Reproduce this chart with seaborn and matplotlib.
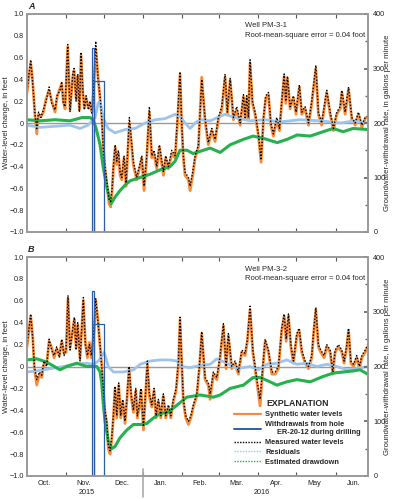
import numpy as np
import pandas as pd
import matplotlib
matplotlib.use("Agg")
import matplotlib.pyplot as plt
import matplotlib.dates as mdates
import matplotlib.ticker as mticker
from matplotlib.lines import Line2D
import seaborn as sns

# ---------------- data (days since 2015-10-01) ----------------
meas_days_a = [0.5, 3.4, 4.7, 6.8, 8.2, 9.6, 11.5, 13.4, 15.5, 17.9, 20.0, 22.6, 24.2, 26.5, 27.9, 29.1,
               30.5, 32.6, 34.4, 36.6, 37.6, 39.2, 40.5, 41.8, 43.1, 44.5, 45.7, 47.1, 48.9, 50.2, 51.8,
               53.4, 54.7, 56.5, 58.1, 59.4, 60.7, 62.0, 63.6, 65.2, 66.5, 67.6, 68.6, 70.0, 71.3, 72.5,
               73.9, 75.2, 77.0, 78.6, 81.2, 83.1, 84.3, 87.0, 89.1, 91.0, 92.8, 94.9, 97.0, 98.9, 100.7,
               102.8, 104.9, 106.8, 108.1, 109.9, 112.0, 114.7, 117.3, 119.4, 121.2, 122.5, 123.8, 125.1,
               127.8, 129.1, 131.2, 133.1, 135.7, 138.3, 140.9, 143.5, 146.2, 148.8, 151.4, 154.1, 156.7,
               158.5, 160.7, 163.3, 165.9, 168.6, 171.2, 172.5, 173.8, 175.1, 176.4, 178.3, 180.4, 183.0,
               185.1, 187.0, 188.8, 190.9, 192.8, 194.8, 197.5, 199.6, 201.4, 203.3, 204.6, 205.9, 208.0,
               210.6, 212.7, 215.3, 217.2, 219.8, 222.5, 225.1, 228.3, 230.3, 232.9, 235.6, 236.9, 239.6,
               242.2, 244.8, 247.5, 248.8, 251.4, 254.1, 256.7, 259.3, 261.9, 264.6, 267.2, 269.2]
meas_vals_a = [0.30, 0.58, 0.40, 0.08, -0.05, 0.10, 0.05, 0.12, 0.20, 0.33, 0.18, 0.12, 0.25, 0.30, 0.38, 0.18,
               0.15, 0.72, 0.10, 0.45, 0.50, 0.20, 0.45, 0.10, 0.65, 0.30, 0.12, 0.25, 0.12, 0.20, 0.08,
               0.40, 0.75, 0.40, 0.25, 0.05, -0.25, -0.40, -0.55, -0.70, -0.72, -0.60, -0.40, -0.20, -0.35, -0.25,
               -0.45, -0.50, -0.30, -0.55, 0.05, -0.20, -0.35, -0.50, -0.40, -0.30, -0.58, -0.30, 0.15, -0.30, -0.25,
               -0.40, -0.20, -0.35, -0.45, -0.30, -0.40, -0.25, -0.30, 0.10, 0.47, 0.00, -0.30, -0.45,
               -0.50, -0.58, -0.45, -0.30, -0.20, 0.40, 0.05, -0.18, -0.05, -0.15, 0.05, 0.15, 0.45,
               0.10, 0.41, 0.05, 0.15, 0.00, 0.26, 0.05, 0.25, 0.05, 0.58, 0.20, 0.10, -0.10,
               -0.34, 0.05, 0.25, 0.28, 0.00, -0.10, 0.05, -0.05, 0.20, 0.45, 0.20, 0.43, 0.15,
               0.25, 0.10, 0.35, 0.10, 0.15, 0.00, 0.20, 0.53, 0.10, 0.00, 0.20, 0.30, 0.10,
               -0.05, 0.10, 0.15, 0.30, 0.10, 0.33, 0.05, 0.00, 0.10, -0.02, 0.05, 0.06]
synth_vals_a = [0.28, 0.55, 0.42, 0.06, -0.10, 0.08, 0.06, 0.10, 0.22, 0.30, 0.20, 0.10, 0.24, 0.32, 0.36, 0.20,
                0.13, 0.70, 0.12, 0.43, 0.48, 0.22, 0.43, 0.12, 0.62, 0.28, 0.14, 0.23, 0.14, 0.18, 0.10,
                0.38, 0.68, 0.42, 0.22, 0.08, -0.22, -0.42, -0.57, -0.74, -0.77, -0.62, -0.42, -0.22, -0.38, -0.28,
                -0.48, -0.52, -0.32, -0.58, 0.00, -0.22, -0.38, -0.52, -0.42, -0.32, -0.62, -0.32, 0.10, -0.32, -0.28,
                -0.42, -0.22, -0.38, -0.48, -0.32, -0.42, -0.28, -0.32, 0.05, 0.45, -0.02, -0.32, -0.48,
                -0.52, -0.62, -0.48, -0.32, -0.22, 0.42, 0.02, -0.20, -0.07, -0.17, 0.03, 0.12, 0.42,
                0.08, 0.39, 0.03, 0.12, -0.02, 0.24, 0.03, 0.23, 0.03, 0.55, 0.18, 0.08, -0.12,
                -0.36, 0.03, 0.23, 0.26, -0.02, -0.12, 0.03, -0.07, 0.18, 0.43, 0.18, 0.41, 0.13,
                0.23, 0.08, 0.33, 0.08, 0.13, -0.02, 0.18, 0.50, 0.08, -0.02, 0.18, 0.28, 0.08,
                -0.07, 0.08, 0.13, 0.28, 0.08, 0.31, 0.03, -0.02, 0.08, -0.04, 0.04, 0.06]

meas_days_b = [0.5, 3.4, 5.0, 6.3, 8.2, 10.2, 12.1, 13.9, 16.0, 17.9, 20.0, 21.8, 23.9, 26.0, 27.9, 29.7,
               31.3, 32.8, 34.4, 36.6, 37.8, 39.2, 40.5, 42.3, 44.9, 46.5, 48.1, 49.7, 51.2, 53.4, 54.7,
               56.5, 58.1, 59.4, 60.7, 62.0, 63.4, 64.6, 66.0, 67.3, 68.6, 69.9, 71.3, 72.8, 74.4, 76.0,
               77.8, 79.2, 81.0, 82.6, 84.4, 86.3, 87.5, 89.1, 90.4, 92.3, 94.2, 95.4, 97.0, 98.9, 100.7,
               102.3, 104.1, 106.0, 108.0, 109.9, 112.0, 113.9, 115.9, 118.1, 119.9, 121.2, 122.5, 123.8,
               125.7, 127.8, 129.7, 131.7, 134.4, 136.4, 138.3, 140.9, 143.5, 144.9, 147.5, 150.2, 152.8,
               155.4, 157.5, 159.3, 162.0, 164.6, 167.2, 169.9, 172.5, 174.3, 176.4, 178.6, 180.4, 182.2,
               184.3, 186.5, 188.3, 190.9, 193.6, 196.2, 198.8, 201.4, 203.3, 204.9, 206.7, 208.6, 210.6,
               213.3, 215.1, 217.2, 219.8, 222.5, 225.1, 226.4, 228.3, 230.3, 232.2, 234.8, 236.9, 239.6,
               241.7, 243.5, 246.1, 248.8, 250.6, 252.7, 254.1, 255.9, 258.0, 260.6, 262.7, 264.6, 267.2, 269.2]
meas_vals_b = [0.20, 0.48, 0.25, 0.00, -0.12, -0.05, -0.08, 0.05, 0.00, 0.25, 0.15, 0.10, 0.18, 0.08, 0.25, 0.10,
               0.15, 0.65, 0.15, 0.35, 0.45, 0.15, 0.40, 0.05, 0.63, 0.20, 0.10, 0.20, 0.10, 0.35, 0.62,
               0.40, 0.20, 0.00, -0.20, -0.40, -0.50, -0.72, -0.77, -0.65, -0.45, -0.18, -0.45, -0.15, -0.45, -0.30,
               -0.50, -0.30, 0.00, -0.25, -0.40, -0.20, -0.45, -0.35, -0.20, -0.55, -0.20, 0.05, -0.25, -0.35, -0.20,
               -0.45, -0.30, -0.45, -0.25, -0.45, -0.35, -0.45, -0.30, -0.20, 0.05, 0.45, 0.05, -0.30,
               -0.45, -0.50, -0.45, -0.35, -0.25, 0.00, 0.32, -0.10, -0.15, -0.25, -0.05, -0.10, 0.10,
               0.39, 0.00, 0.30, 0.00, 0.05, -0.05, 0.15, 0.12, 0.25, 0.55, 0.15, 0.00, -0.15,
               -0.30, 0.00, 0.25, 0.15, -0.05, -0.05, 0.00, 0.35, 0.48, 0.25, 0.48, 0.20, 0.05,
               0.30, 0.35, 0.15, 0.05, 0.00, 0.10, 0.30, 0.54, 0.20, 0.15, 0.10, 0.20, 0.15,
               -0.05, 0.15, 0.20, 0.15, 0.05, 0.20, 0.35, 0.05, 0.02, 0.10, 0.00, 0.10, 0.15, 0.20]
synth_vals_b = [0.18, 0.46, 0.27, -0.02, -0.17, -0.07, -0.10, 0.03, 0.02, 0.23, 0.17, 0.08, 0.16, 0.10, 0.23, 0.12,
                0.13, 0.62, 0.17, 0.33, 0.43, 0.17, 0.38, 0.07, 0.60, 0.22, 0.08, 0.22, 0.08, 0.33, 0.60,
                0.42, 0.18, 0.02, -0.22, -0.42, -0.52, -0.75, -0.80, -0.67, -0.47, -0.20, -0.47, -0.17, -0.47, -0.32,
                -0.52, -0.32, -0.02, -0.27, -0.42, -0.22, -0.47, -0.37, -0.22, -0.58, -0.22, 0.02, -0.27, -0.37, -0.22,
                -0.47, -0.32, -0.47, -0.27, -0.47, -0.37, -0.47, -0.32, -0.22, 0.02, 0.43, 0.03, -0.32,
                -0.47, -0.53, -0.47, -0.37, -0.27, -0.02, 0.30, -0.12, -0.17, -0.30, -0.07, -0.12, 0.08,
                0.37, -0.02, 0.28, -0.02, 0.03, -0.07, 0.13, 0.10, 0.23, 0.52, 0.13, -0.02, -0.18,
                -0.36, -0.02, 0.23, 0.13, -0.07, -0.07, -0.02, 0.33, 0.46, 0.23, 0.46, 0.18, 0.03,
                0.28, 0.33, 0.13, 0.03, -0.02, 0.08, 0.28, 0.52, 0.18, 0.13, 0.08, 0.18, 0.13,
                -0.07, 0.13, 0.18, 0.13, 0.03, 0.18, 0.33, 0.03, 0.00, 0.08, -0.02, 0.08, 0.13, 0.18]

resid_days_a = [0.5, 10.8, 22.6, 34.4, 42.3, 48.6, 54.2, 56.5, 58.1, 60.5, 64.4, 69.9, 77.8, 85.7, 93.6,
                101.5, 109.4, 117.3, 121.2, 125.2, 129.1, 133.1, 137.0, 144.9, 156.7, 164.6, 176.4, 188.3,
                200.1, 215.9, 231.7, 247.5, 259.3, 269.2]
resid_vals_a = [-0.02, -0.04, -0.03, -0.02, -0.05, -0.02, 0.05, 0.18, 0.20, 0.05, -0.05, -0.09, -0.06, -0.05, 0.00,
                0.03, 0.04, 0.08, 0.06, 0.00, -0.05, 0.00, 0.03, 0.02, 0.08, 0.05, 0.02, 0.03,
                0.01, 0.03, 0.02, 0.00, 0.02, 0.00]
resid_days_b = [0.5, 8.2, 18.6, 29.1, 37.0, 47.6, 52.8, 56.8, 61.3, 64.6, 68.6, 76.5, 84.4, 89.7, 97.5,
                105.4, 113.3, 118.6, 122.5, 129.1, 137.0, 144.9, 150.2, 158.1, 166.0, 176.4, 183.0, 189.6,
                197.5, 205.4, 213.3, 221.2, 229.1, 237.0, 244.9, 252.7, 260.6, 269.2]
resid_vals_b = [-0.05, -0.04, -0.02, 0.00, 0.02, 0.03, 0.02, 0.05, 0.13, 0.00, -0.05, -0.05, -0.03, 0.02, 0.05,
                0.06, 0.06, 0.05, 0.00, -0.01, 0.01, 0.02, 0.07, 0.03, -0.02, 0.00, -0.03, 0.02,
                0.03, 0.06, 0.02, 0.03, 0.00, 0.02, 0.00, -0.03, -0.02, 0.00]

draw_days_a = [0.5, 10.8, 22.6, 34.4, 43.9, 50.2, 52.6, 55.0, 58.1, 60.5, 63.6, 66.8, 69.9, 73.9, 77.8,
               81.8, 89.7, 97.5, 105.4, 113.3, 117.3, 121.2, 126.7, 131.5, 137.0, 144.9, 152.8, 160.7,
               171.2, 178.8, 186.7, 197.8, 205.6, 213.5, 223.8, 234.0, 241.9, 249.8, 257.7, 269.2]
draw_vals_a = [0.03, 0.02, 0.03, 0.02, 0.05, 0.05, 0.03, -0.05, -0.20, -0.40, -0.60, -0.74, -0.68, -0.62, -0.57,
               -0.53, -0.50, -0.47, -0.43, -0.40, -0.35, -0.25, -0.25, -0.28, -0.26, -0.23, -0.27, -0.20,
               -0.15, -0.12, -0.14, -0.18, -0.15, -0.11, -0.12, -0.08, -0.05, -0.08, -0.05, -0.06]
draw_days_b = [0.5, 8.2, 16.0, 26.5, 31.8, 39.7, 47.6, 55.5, 58.1, 59.4, 60.7, 62.0, 63.4, 64.6, 67.3,
               69.9, 73.9, 79.2, 84.4, 89.7, 95.0, 100.2, 105.4, 110.7, 115.9, 121.2, 126.5, 131.7, 137.0,
               147.5, 152.8, 160.7, 171.2, 178.8, 184.3, 192.2, 197.5, 205.4, 213.3, 223.8, 234.3, 242.2,
               250.1, 258.0, 263.2, 269.2]
draw_vals_b = [0.06, 0.07, 0.04, -0.03, 0.00, 0.03, 0.00, 0.00, -0.05, -0.15, -0.35, -0.50, -0.60, -0.68, -0.75,
               -0.73, -0.65, -0.58, -0.53, -0.53, -0.52, -0.47, -0.43, -0.42, -0.38, -0.33, -0.28, -0.27, -0.26,
               -0.28, -0.26, -0.20, -0.17, -0.10, -0.10, -0.14, -0.17, -0.14, -0.12, -0.14, -0.09, -0.06,
               -0.05, -0.04, -0.03, -0.07]

# withdrawal from hole ER-20-12 (gallons per minute)
wd_days = [51.5, 51.5, 53.0, 53.0, 53.1, 53.1, 61.5, 61.5, 74.4]
wd_rate = [0, 337, 337, 0, 0, 277, 277, 0, 0]

well_names = ["Well PM-3-1", "Well PM-3-2"]
rmse_text = "Root-mean-square error = 0.04 foot"
panel_letters = ["A", "B"]
left_ticks = [-1.0, -0.8, -0.6, -0.4, -0.2, 0.0, 0.2, 0.4, 0.6, 0.8, 1.0]
right_ticks = [0, 100, 200, 300, 400]
year_labels = [("2015", 47.6), ("2016", 185.7)]

# ---------------- style ----------------
sns.set_theme(style="white")
plt.rcParams["font.family"] = ["Liberation Sans Narrow", "Liberation Sans", "DejaVu Sans"]
plt.rcParams["axes.unicode_minus"] = True

C_ORANGE = "#f68b3a"
C_BLUE = "#2f5ea8"
C_RESID = "#9fc3ea"
C_GREEN = "#27b04e"
C_SPINE = "#9a9a9a"

base = pd.Timestamp("2015-10-01")
def to_dt(days):
    return base + pd.to_timedelta(np.asarray(days, dtype=float), unit="D")

fig = plt.figure(figsize=(3.97, 4.99), dpi=100)
ax_pos = [[27/397, 1-232/499, 340.7/397, 218/499],
          [27/397, 1-476/499, 340.7/397, 219/499]]

datasets = [
    (meas_days_a, meas_vals_a, synth_vals_a, resid_days_a, resid_vals_a, draw_days_a, draw_vals_a),
    (meas_days_b, meas_vals_b, synth_vals_b, resid_days_b, resid_vals_b, draw_days_b, draw_vals_b),
]

x0 = to_dt([0.47])[0]
x1 = to_dt([269.2])[0]

def month_fmt(x, pos):
    d = mdates.num2date(x)
    s = d.strftime("%b")
    return s if s == "May" else s + "."

for i, (md, mv, sv, rd, rv, dd, dv) in enumerate(datasets):
    ax = fig.add_axes(ax_pos[i])
    ax.axhline(0, color=C_SPINE, lw=1.0, zorder=0.5)
    t = to_dt(md)
    sns.lineplot(x=t, y=sv, ax=ax, color=C_ORANGE, lw=2.0, estimator=None, sort=False, zorder=2)
    sns.lineplot(x=to_dt(rd), y=rv, ax=ax, color=C_RESID, lw=2.0, estimator=None, sort=False, zorder=3)
    sns.lineplot(x=to_dt(dd), y=dv, ax=ax, color=C_GREEN, lw=2.2, estimator=None, sort=False, zorder=4)
    sns.lineplot(x=t, y=mv, ax=ax, color="black", lw=1.0, estimator=None, sort=False, zorder=5,
                 linestyle=(0, (1.0, 1.3)))
    ax.set_xlim(x0, x1)
    ax.set_ylim(-1.0, 1.0)
    ax.set_yticks(left_ticks)
    ax.yaxis.set_major_formatter(mticker.FuncFormatter(
        lambda v, p: "0" if abs(v) < 1e-9 else f"{v:.1f}".replace("-", "\u2212")))
    ax.tick_params(axis="y", which="major", length=0, pad=2.5, labelsize=5.2, colors="#222222")
    ax.set_ylabel("Water-level change, in feet", fontsize=5.6)
    ax.yaxis.set_label_coords(-0.049, 0.5)
    ax.xaxis.set_major_locator(mdates.MonthLocator())
    ax.xaxis.set_minor_locator(mdates.MonthLocator(bymonthday=15))
    ax.xaxis.set_major_formatter(mticker.NullFormatter())
    if i == 1:
        ax.xaxis.set_minor_formatter(mticker.FuncFormatter(month_fmt))
    else:
        ax.xaxis.set_minor_formatter(mticker.NullFormatter())
    ax.tick_params(axis="x", which="major", direction="in", length=3, width=0.8,
                   top=True, bottom=True, color="#555555")
    ax.tick_params(axis="x", which="minor", length=0, pad=3, labelsize=5.2, colors="#222222")
    ax.set_xlabel("")
    for sp in ax.spines.values():
        sp.set_color(C_SPINE)
        sp.set_linewidth(1.2)

    ax2 = ax.twinx()
    sns.lineplot(x=to_dt(wd_days), y=wd_rate, ax=ax2, color=C_BLUE, lw=0.9, estimator=None, sort=False)
    ax2.set_xlim(x0, x1)
    ax2.set_ylim(0, 400)
    ax2.set_yticks(right_ticks)
    ax2.yaxis.set_minor_locator(mticker.MultipleLocator(50))
    ax2.tick_params(axis="y", which="major", direction="in", length=3, pad=4, labelsize=5.2,
                    color="#666666", labelcolor="#222222")
    ax2.tick_params(axis="y", which="minor", direction="in", length=2.5, color="#666666")
    ax2.set_ylabel("Groundwater-withdrawal rate, in gallons per minute", fontsize=5.6)
    ax2.yaxis.set_label_coords(1.048, 0.5)
    for sp in ax2.spines.values():
        sp.set_color(C_SPINE)
        sp.set_linewidth(1.2)

    ax.text(0.64, 0.945, well_names[i], transform=ax.transAxes, fontsize=5.5, va="center", ha="left")
    ax.text(0.64, 0.902, rmse_text, transform=ax.transAxes, fontsize=5.5, va="center", ha="left")
    fig.text(ax_pos[i][0] + 0.003, ax_pos[i][1] + ax_pos[i][3] + 0.006, panel_letters[i],
             fontsize=6.5, fontweight="bold", fontstyle="italic", ha="left", va="bottom")

    if i == 1:
        tr = ax.get_xaxis_transform()
        for lab, d in year_labels:
            ax.text(to_dt([d])[0], -0.075, lab, transform=tr, ha="center", va="center",
                    fontsize=5.2, color="#222222")
        jan1 = pd.Timestamp("2016-01-01")
        ax.add_line(Line2D([jan1, jan1], [0.03, -0.096], transform=tr, color="#aaaaaa",
                           lw=1.2, clip_on=False))
        handles = [
            Line2D([], [], color=C_ORANGE, lw=1.6),
            Line2D([], [], color=C_BLUE, lw=1.4),
            Line2D([], [], color="black", lw=1.0, linestyle=(0, (1, 1))),
            Line2D([], [], color=C_RESID, lw=1.0, linestyle=(0, (1, 1))),
            Line2D([], [], color=C_GREEN, lw=1.0, linestyle=(0, (1, 1))),
        ]
        labels = ["Synthetic water levels",
                  "Withdrawals from hole\n      ER-20-12 during drilling",
                  "Measured water levels", "Residuals", "Estimated drawdown"]
        leg = ax.legend(handles, labels, title="EXPLANATION", loc="upper left",
                        bbox_to_anchor=(0.595, 0.37), frameon=False, fontsize=5.3,
                        title_fontsize=6.3, handlelength=3.6, handletextpad=0.6,
                        labelspacing=0.38, borderpad=0.1)
        leg.get_title().set_fontweight("bold")
        for txt in leg.get_texts():
            txt.set_fontweight("bold")
        leg.set_zorder(10)

fig.savefig("out.png", dpi=100)
